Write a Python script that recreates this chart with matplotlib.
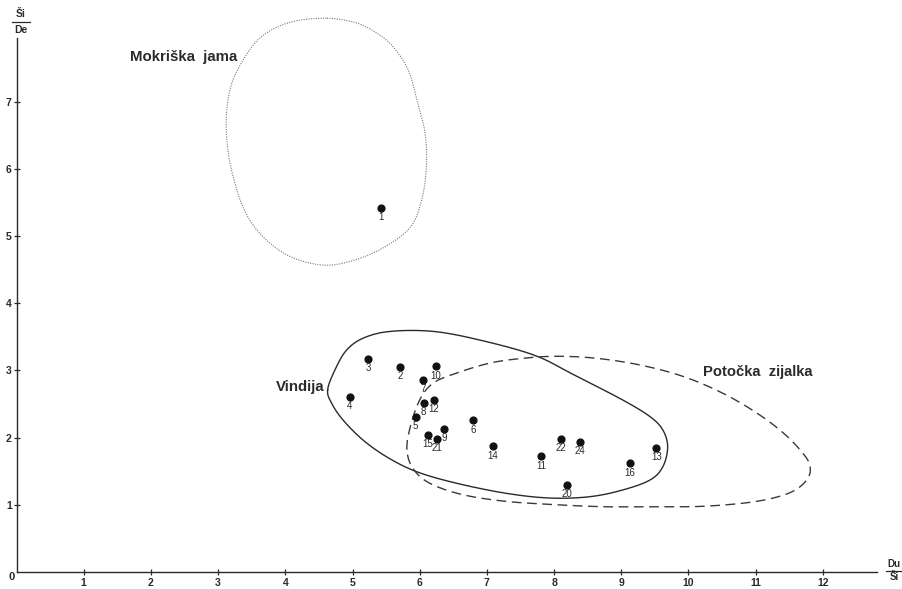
import matplotlib
matplotlib.use('Agg')
import matplotlib.pyplot as plt
import numpy as np

plt.rcParams['font.family'] = ['Liberation Sans', 'DejaVu Sans']

# measured points (Du/Ši, Ši/De)
labels = ['1', '3', '2', '10', '7', '4', '8', '12', '5', '6', '9', '15', '21',
          '14', '22', '24', '11', '20', '16', '13']
du_si = [5.43, 5.23, 5.71, 6.24, 6.05, 4.96, 6.06, 6.21, 5.94, 6.80, 6.36, 6.12, 6.26,
         7.09, 8.10, 8.39, 7.81, 8.19, 9.13, 9.52]
si_de = [5.42, 3.17, 3.05, 3.06, 2.86, 2.61, 2.52, 2.56, 2.31, 2.26, 2.13, 2.04, 1.98,
         1.87, 1.98, 1.94, 1.72, 1.30, 1.62, 1.85]

# outlines of the three groups
mokriska_x = [4.62, 5.06, 5.36, 5.60, 5.83, 5.96, 6.08, 6.10, 6.03, 5.86, 5.45, 4.96,
              4.52, 4.02, 3.62, 3.37, 3.20, 3.13, 3.13, 3.22, 3.47, 3.72, 4.11]
mokriska_y = [8.24, 8.17, 8.02, 7.82, 7.47, 7.02, 6.53, 6.03, 5.54, 5.13, 4.82, 4.62,
              4.57, 4.72, 5.04, 5.43, 5.98, 6.43, 6.88, 7.32, 7.77, 8.02, 8.19]

vindija_x = [4.63, 4.69, 4.86, 5.16, 5.53, 5.96, 6.55, 7.29, 7.94, 8.53, 9.02, 9.43,
             9.62, 9.69, 9.62, 9.43, 9.02, 8.34, 7.72, 6.90, 6.20, 5.56,
             5.16, 4.91, 4.74]
vindija_y = [2.71, 2.51, 2.26, 1.96, 1.70, 1.49, 1.32, 1.17, 1.10, 1.12, 1.22, 1.37,
             1.57, 1.86, 2.11, 2.31, 2.56, 2.91, 3.22, 3.45, 3.58, 3.58,
             3.48, 3.30, 3.01]

potocka_x = [5.81, 5.86, 6.00, 6.20, 6.55, 7.05, 7.54, 8.04, 8.63, 9.28, 9.92, 10.51,
             11.01, 11.41, 11.70, 11.81, 11.76, 11.51, 11.01, 10.27, 9.53, 8.78, 8.04,
             7.29, 6.64, 6.15, 5.90]
potocka_y = [1.82, 2.16, 2.56, 2.81, 2.96, 3.11, 3.18, 3.21, 3.18, 3.08, 2.91, 2.66,
             2.37, 2.07, 1.77, 1.57, 1.37, 1.18, 1.05, 0.98, 0.97, 0.97, 1.00,
             1.05, 1.15, 1.32, 1.54]

x_ticks = list(range(1, 13))
y_ticks = list(range(1, 8))


def closed_curve(xs, ys, n=16):
    # closed Catmull-Rom through the outline vertices
    p = np.column_stack([xs, ys])
    m = len(p)
    t = np.linspace(0, 1, n, endpoint=False)[:, None]
    segs = []
    for i in range(m):
        p0, p1, p2, p3 = p[i - 1], p[i], p[(i + 1) % m], p[(i + 2) % m]
        segs.append(0.5 * (2 * p1 + (p2 - p0) * t
                           + (2 * p0 - 5 * p1 + 4 * p2 - p3) * t ** 2
                           + (3 * p1 - p0 - 3 * p2 + p3) * t ** 3))
    segs.append(p[:1])
    c = np.vstack(segs)
    return c[:, 0], c[:, 1]


fig = plt.figure(figsize=(9.02, 5.89), dpi=100)
ax = fig.add_axes([0.0183, 0.0289, 0.9536, 0.9059])
ax.set_xlim(0, 12.8)
ax.set_ylim(0, 7.94)

ink = '#2a2a2a'

cx, cy = closed_curve(mokriska_x, mokriska_y)
ax.plot(cx, cy, color='#777777', lw=0.8, ls=(0, (1, 1.2)), clip_on=False)
cx, cy = closed_curve(vindija_x, vindija_y)
ax.plot(cx, cy, color=ink, lw=1.0, clip_on=False)
cx, cy = closed_curve(potocka_x, potocka_y)
ax.plot(cx, cy, color='#3a3a3a', lw=1.0, ls=(0, (7, 4)), clip_on=False)

ax.scatter(du_si, si_de, s=24, color='#111111', zorder=3)
for lab, x, y in zip(labels, du_si, si_de):
    ax.annotate(lab, (x, y), xytext=(0, -6.8), textcoords='offset points',
                ha='center', va='center', fontsize=7, color=ink)

ax.text(1.69, 7.66, 'Mokriška  jama', fontsize=10.8, fontweight='bold', color=ink,
        ha='left', va='center')
ax.text(4.59, 2.75, 'Vindija', fontsize=10.8, fontweight='bold', color=ink,
        ha='right', va='center')
ax.text(10.22, 2.98, 'Potočka  zijalka', fontsize=10.6, fontweight='bold', color=ink,
        ha='left', va='center')

for s in ['top', 'right']:
    ax.spines[s].set_visible(False)
for s in ['left', 'bottom']:
    ax.spines[s].set_color(ink)
    ax.spines[s].set_linewidth(1.0)

ax.set_xticks(x_ticks)
ax.set_yticks(y_ticks)
ax.tick_params(direction='inout', length=5, width=0.9, color=ink,
               labelsize=7.5, labelcolor=ink, pad=2)
ax.tick_params(axis='y', pad=1)
for t in ax.get_xticklabels() + ax.get_yticklabels():
    t.set_fontweight('bold')

# origin and fraction-style axis titles
fig.text(11.7 / 902, 1 - 577 / 589, '0', fontsize=8, fontweight='bold',
         color=ink, ha='center', va='center')
fig.text(20.7 / 902, 1 - 14 / 589, 'Ši', fontsize=7.5, fontweight='bold',
         color=ink, ha='center', va='center')
fig.text(20.7 / 902, 1 - 30 / 589, 'De', fontsize=7.5, fontweight='bold',
         color=ink, ha='center', va='center')
fig.add_artist(plt.Line2D([12 / 902, 30 / 902], [1 - 21.5 / 589, 1 - 21.5 / 589],
                          color=ink, lw=0.9))
fig.text(894 / 902, 1 - 564 / 589, 'Du', fontsize=7, fontweight='bold',
         color=ink, ha='center', va='center')
fig.text(894 / 902, 1 - 577 / 589, 'Ši', fontsize=7, fontweight='bold',
         color=ink, ha='center', va='center')
fig.add_artist(plt.Line2D([886 / 902, 901 / 902], [1 - 570.5 / 589, 1 - 570.5 / 589],
                          color=ink, lw=0.9))

fig.savefig('out.png', dpi=100)
